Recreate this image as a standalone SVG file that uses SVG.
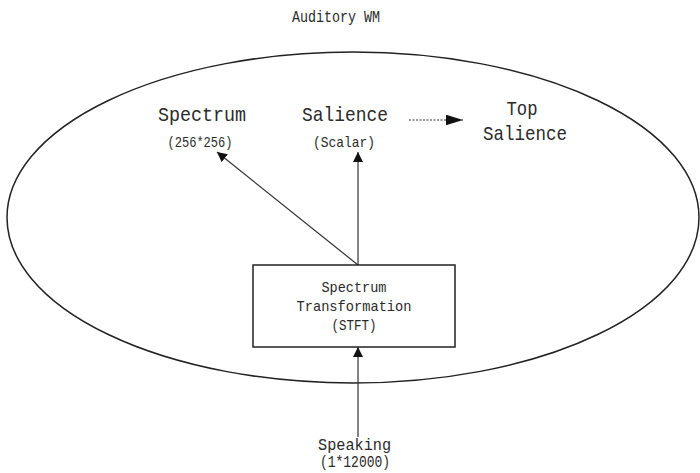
<svg xmlns="http://www.w3.org/2000/svg" width="700" height="473" viewBox="0 0 700 473">
  <style>
    text { font-family: "Liberation Mono", "DejaVu Sans Mono", monospace; fill: #2a2a2a; text-anchor: middle; }
    .big { font-size: 21px; }
    .small { font-size: 15px; }
    .box { font-size: 15px; }
    .title { font-size: 16px; }
    .edge { stroke: #333; stroke-width: 1.2; fill: none; }
    .shape { stroke: #222; stroke-width: 1.5; fill: #fff; }
  </style>
  <defs>
    <marker id="arrow" viewBox="0 0 10 10" refX="10" refY="5" markerWidth="10" markerHeight="10" markerUnits="userSpaceOnUse" orient="auto">
      <path d="M0,0 L10,5 L0,10 Z" fill="#111"/>
    </marker>
    <marker id="arrowBig" viewBox="0 0 16 10" refX="16" refY="5" markerWidth="17" markerHeight="11" markerUnits="userSpaceOnUse" orient="auto">
      <path d="M0,0 L16,5 L0,10 Z" fill="#111"/>
    </marker>
  </defs>

  <text class="title" x="336" y="22" textLength="88" lengthAdjust="spacingAndGlyphs">Auditory WM</text>

  <g id="wm">
    <ellipse class="shape" cx="353" cy="217.5" rx="346" ry="165.5"/>
  </g>

  <g id="connectors">
    <line class="edge" x1="358" y1="437" x2="358" y2="347" marker-end="url(#arrow)"/>
    <line class="edge" x1="358" y1="265" x2="358" y2="152" marker-end="url(#arrow)"/>
    <line class="edge" x1="358" y1="265" x2="217" y2="152" marker-end="url(#arrow)"/>
    <line class="edge" x1="409" y1="120" x2="463" y2="120" stroke-dasharray="2,1.5" marker-end="url(#arrowBig)"/>
  </g>

  <g id="stft">
    <rect class="shape" x="253" y="265" width="202" height="82"/>
    <text class="box" x="354" y="292" textLength="65" lengthAdjust="spacingAndGlyphs">Spectrum</text>
    <text class="box" x="354" y="311" textLength="115" lengthAdjust="spacingAndGlyphs">Transformation</text>
    <text class="box" x="354" y="330" textLength="45" lengthAdjust="spacingAndGlyphs">(STFT)</text>
  </g>

  <g id="spectrum">
    <text class="big" x="202" y="121" textLength="88" lengthAdjust="spacingAndGlyphs">Spectrum</text>
    <text class="small" x="200" y="147" textLength="65" lengthAdjust="spacingAndGlyphs">(256*256)</text>
  </g>

  <g id="salience">
    <text class="big" x="345" y="121" textLength="86" lengthAdjust="spacingAndGlyphs">Salience</text>
    <text class="small" x="344" y="147" textLength="62" lengthAdjust="spacingAndGlyphs">(Scalar)</text>
  </g>

  <g id="top-salience">
    <text class="big" x="522" y="115" textLength="31" lengthAdjust="spacingAndGlyphs">Top</text>
    <text class="big" x="525" y="140" textLength="84" lengthAdjust="spacingAndGlyphs">Salience</text>
  </g>

  <g id="speaking">
    <text class="title" x="354.5" y="450" textLength="73" lengthAdjust="spacingAndGlyphs">Speaking</text>
    <text class="title" x="355" y="467" textLength="70" lengthAdjust="spacingAndGlyphs">(1*12000)</text>
  </g>
</svg>
